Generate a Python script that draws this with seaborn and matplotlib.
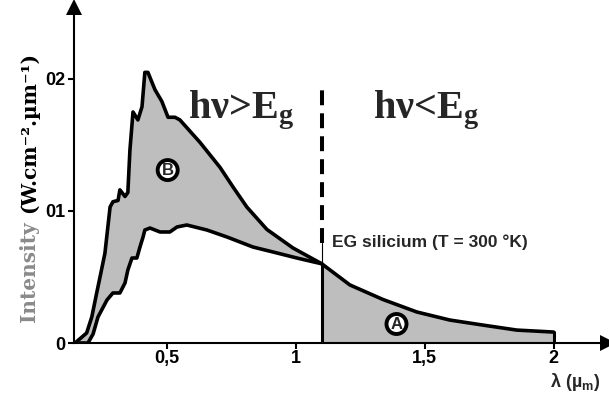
import numpy as np
import pandas as pd
import matplotlib
matplotlib.use("Agg")
import matplotlib.pyplot as plt
import seaborn as sns

# solar spectrum (top curve) and silicon absorbed part (lower curve)
upper_x = [0.142, 0.187, 0.207, 0.226, 0.239, 0.258, 0.278, 0.289, 0.309, 0.316, 0.336,
           0.347, 0.355, 0.367, 0.386, 0.402, 0.413, 0.425, 0.452, 0.479, 0.503, 0.530,
           0.549, 0.627, 0.705, 0.756, 0.809, 0.887, 0.988, 1.10, 1.209, 1.337, 1.469,
           1.597, 1.725, 1.857, 2.0]
upper_y = [0.0, 0.0076, 0.0197, 0.0379, 0.050, 0.068, 0.103, 0.107, 0.108, 0.116, 0.111,
           0.114, 0.146, 0.175, 0.169, 0.179, 0.205, 0.205, 0.192, 0.183, 0.171, 0.171,
           0.169, 0.152, 0.133, 0.118, 0.103, 0.086, 0.072, 0.060, 0.044, 0.033, 0.0235,
           0.0174, 0.0136, 0.0098, 0.0083]

lower_x = [0.142, 0.192, 0.212, 0.231, 0.266, 0.289, 0.316, 0.336, 0.347, 0.363, 0.382,
           0.394, 0.406, 0.413, 0.433, 0.472, 0.510, 0.538, 0.576, 0.654, 0.732, 0.833,
           0.926, 1.003, 1.10]
lower_y = [0.0, 0.0, 0.0068, 0.0197, 0.0326, 0.0379, 0.0379, 0.0455, 0.0553, 0.0644, 0.0644,
           0.0727, 0.0803, 0.0856, 0.0871, 0.0841, 0.0841, 0.0879, 0.0894, 0.0856, 0.0803, 0.0727,
           0.0682, 0.0644, 0.060]

gap_x = 1.10
x_ticks = [0.5, 1.0, 1.5, 2.0]
x_labels = ["0,5", "1", "1,5", "2"]
y_ticks = [0.0, 0.1, 0.2]
y_labels = ["0", "01", "02"]

sns.set_theme(style="white")
plt.rcParams['font.family'] = ['Liberation Sans', 'DejaVu Sans']

up = pd.DataFrame({"x": upper_x, "y": upper_y})
low = pd.DataFrame({"x": lower_x, "y": lower_y})

fig = plt.figure(figsize=(6.09, 3.95), dpi=100)
ax = fig.add_axes([0.1223, 0.1316, 0.876, 0.8506])
ax.set_xlim(0.1398, 2.211)
ax.set_ylim(0, 0.2545)

gray = "#bebebe"
# region B: between the two curves up to the gap
ub = up[up.x <= gap_x]
ax.fill(np.concatenate([ub.x, low.x[::-1]]), np.concatenate([ub.y, low.y[::-1]]),
        color=gray, lw=0, zorder=1)
# region A: under the spectrum beyond the gap
ua = up[up.x >= gap_x]
ax.fill(np.concatenate([ua.x, [ua.x.iloc[-1], gap_x]]), np.concatenate([ua.y, [0, 0]]),
        color=gray, lw=0, zorder=1)

sns.lineplot(data=up, x="x", y="y", sort=False, estimator=None, color="black", lw=2.6, ax=ax, zorder=3)
sns.lineplot(data=low, x="x", y="y", sort=False, estimator=None, color="black", lw=2.6, ax=ax, zorder=3)

# edges of region A
ax.plot([gap_x, gap_x], [0, ua.y.iloc[0]], color="black", lw=2.2, zorder=3)
ax.plot([ua.x.iloc[-1]] * 2, [0, ua.y.iloc[-1]], color="black", lw=2.2, zorder=3)
# band gap marker
ax.plot([gap_x, gap_x], [0.0758, 0.1955], color="black", lw=2.9, dashes=(3.7, 2.0),
        solid_capstyle="butt", dash_capstyle="butt", zorder=3)
ax.plot([gap_x, gap_x], [ua.y.iloc[0], 0.0758], color="black", lw=0.8, zorder=3)

ax.text(0.788, 0.1705, r"hν>$\mathregular{E_g}$", family="Liberation Serif", weight="bold",
        fontsize=29, ha="center", va="baseline")
ax.text(1.506, 0.1705, r"hν<$\mathregular{E_g}$", family="Liberation Serif", weight="bold",
        fontsize=29, ha="center", va="baseline")
ax.text(1.139, 0.0727, "EG silicium (T = 300 °K)", fontsize=12.5, weight="bold",
        ha="left", va="baseline")

for lab, (cx, cy) in {"B": (0.5016, 0.131), "A": (1.39, 0.0144)}.items():
    ax.text(cx, cy, lab, fontsize=12, weight="bold", ha="center", va="center", zorder=4,
            bbox=dict(boxstyle="circle,pad=0.15", fc="white", ec="black", lw=2.8))

ax.text(2.083, -0.0335, r"λ (µ$_\mathregular{m}$)", fontsize=13, weight="bold",
        ha="center", va="baseline", clip_on=False)

# axes with arrow heads
for s in ["top", "right"]:
    ax.spines[s].set_visible(False)
for s in ["left", "bottom"]:
    ax.spines[s].set_linewidth(1.5)
    ax.spines[s].set_color("black")
ax.plot(1, 0, ">", color="black", ms=11, transform=ax.transAxes, clip_on=False,
        markeredgewidth=0)
ax.plot(0, 1, "^", color="black", ms=11, transform=ax.transAxes, clip_on=False,
        markeredgewidth=0)

ax.set_xticks(x_ticks, x_labels)
ax.set_yticks(y_ticks, y_labels)
ax.tick_params(axis="both", which="both", direction="out", length=4, width=1.5,
               colors="black", labelsize=13)
ax.tick_params(axis="x", pad=1, bottom=True)
ax.tick_params(axis="y", pad=2.5, left=True)
for t in ax.get_xticklabels() + ax.get_yticklabels():
    t.set_fontweight("bold")
ax.set_xlabel("")
ax.set_ylabel("")

fig.text(0.0575, 0.185, "Intensity", rotation=90, rotation_mode="anchor", ha="left",
         va="baseline", family="DejaVu Serif", weight="bold", fontsize=14.5, color="#8a8a8a")
fig.text(0.0575, 0.4608, "(W.cm⁻².µm⁻¹)", rotation=90,
         rotation_mode="anchor", ha="left", va="baseline", family="DejaVu Serif",
         weight="bold", fontsize=14.5, color="black")

fig.savefig("out.png", dpi=100, facecolor="white")
